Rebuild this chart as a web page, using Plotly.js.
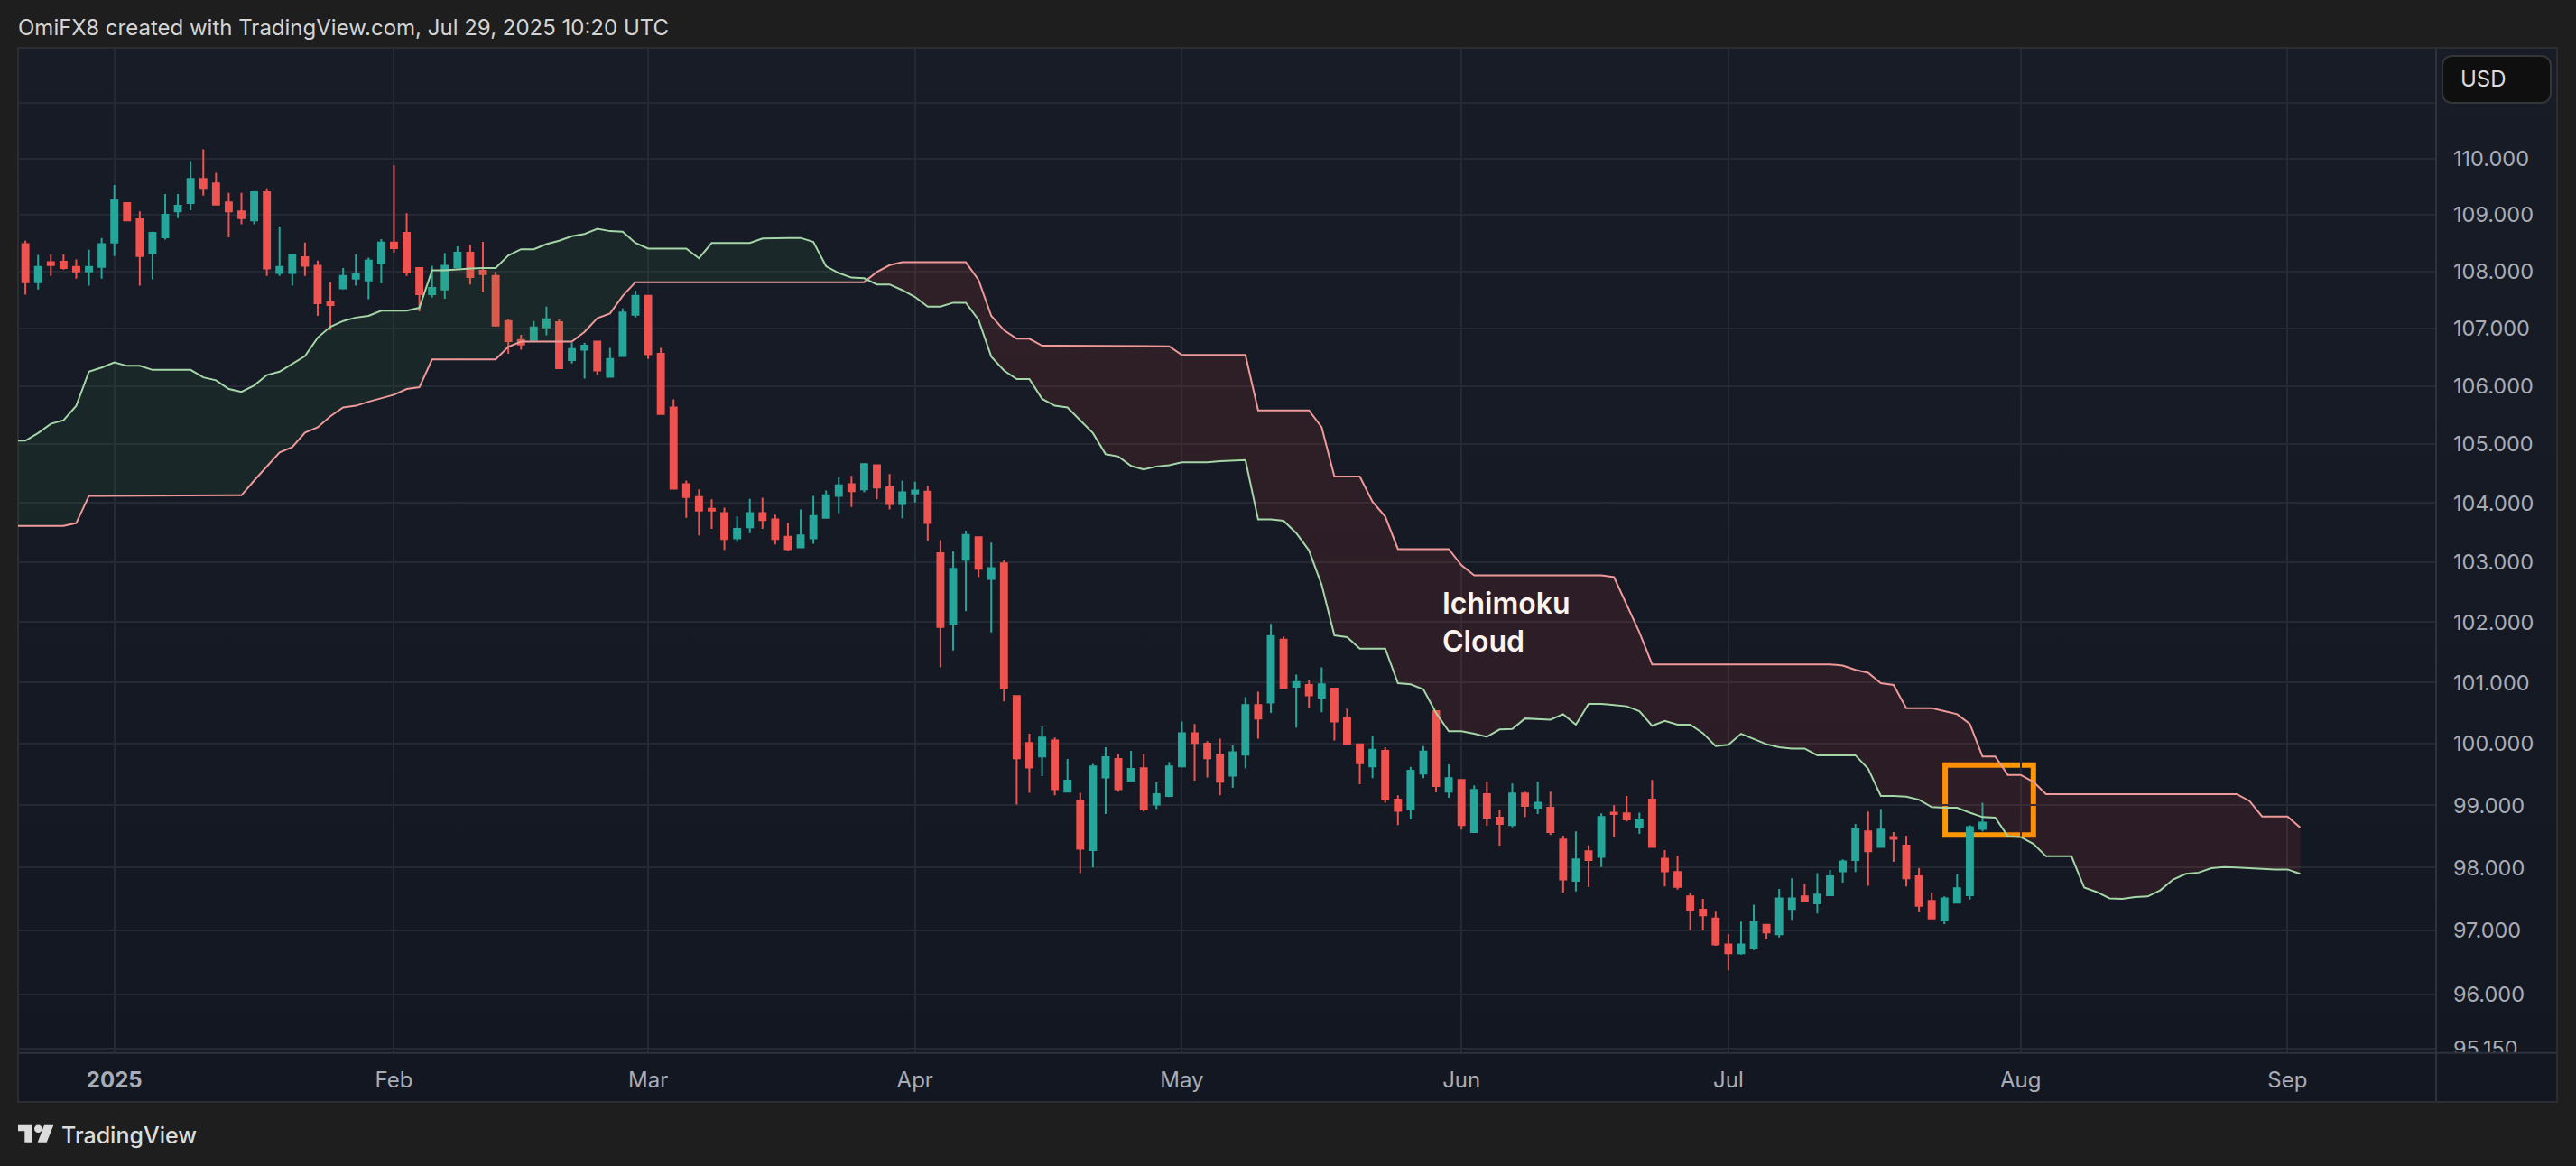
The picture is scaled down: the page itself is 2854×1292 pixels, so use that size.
<!DOCTYPE html>
<html>
<head>
<meta charset="utf-8">
<script src="https://cdn.plot.ly/plotly-3.0.1.min.js"></script>
<style>
html,body{margin:0;padding:0;background:#1e1e1e;width:2854px;height:1292px;overflow:hidden}
#panel{position:absolute;left:19px;top:52px;width:2815px;height:1170px;box-sizing:border-box;border:2px solid #2b2d32;background:linear-gradient(to bottom,#181c27,#131722)}
#plot{position:absolute;left:0;top:0;width:2854px;height:1292px}
</style>
</head>
<body>
<div id="panel"></div>
<div id="plot"></div>
<script>
// Dollar index daily bars, index 0 = late Dec 2024, spaced by trading day
const opens=[108.48,107.81,108.16,108.17,108.08,108.00,108.08,108.51,109.21,108.92,
108.32,108.60,109.06,109.21,109.64,109.56,109.22,109.06,108.90,109.40,
107.97,107.97,108.25,108.10,107.46,107.70,107.87,107.84,108.14,108.51,
108.68,108.06,107.60,107.68,108.07,108.33,108.01,107.92,107.13,106.80,
106.80,107.02,107.11,106.45,106.63,106.77,106.16,106.52,107.24,107.57,
106.56,105.63,104.32,104.10,103.90,103.83,103.40,103.59,103.83,103.72,
103.43,103.25,103.40,103.75,104.12,104.32,104.23,104.64,104.27,103.98,
104.16,104.19,103.15,101.97,103.04,103.42,102.72,102.98,100.78,100.01,
99.79,100.05,99.22,99.07,98.28,99.45,99.75,99.40,99.60,99.01,
99.15,99.63,100.17,100.00,99.82,99.48,99.82,100.63,100.67,101.71,
100.93,100.96,100.75,100.90,100.42,99.99,99.63,99.88,99.09,98.93,
99.51,100.53,99.22,99.41,98.57,99.18,98.80,98.68,99.19,98.96,
98.96,98.45,97.79,98.26,98.17,98.88,98.87,98.65,99.09,98.14,
97.93,97.54,97.33,97.19,96.78,96.64,96.73,97.09,96.94,97.34,
97.54,97.43,97.56,97.94,98.12,98.58,98.33,98.49,98.35,97.86,
97.47,97.16,97.44,97.56,98.62];
const highs=[108.54,108.29,108.30,108.30,108.21,108.38,108.59,109.53,109.22,109.06,
108.70,109.37,109.37,109.96,110.17,109.75,109.39,109.39,109.42,109.47,
108.79,108.29,108.51,108.19,107.81,108.06,108.30,108.24,108.57,109.88,
109.03,108.06,108.10,108.32,108.44,108.46,108.52,107.99,107.17,106.89,
107.13,107.38,107.16,106.75,106.75,106.78,106.66,107.35,107.66,107.57,
106.66,105.77,104.38,104.23,104.06,103.92,103.77,104.07,104.09,103.80,
103.66,103.89,104.12,104.21,104.44,104.46,104.68,104.64,104.49,104.38,
104.36,104.29,103.37,103.18,103.53,103.43,103.33,103.03,100.78,100.16,
100.28,100.10,99.75,99.20,99.67,99.94,99.83,99.88,99.83,99.37,
99.70,100.36,100.32,100.04,100.08,99.97,100.76,100.85,101.97,101.76,
101.13,101.04,101.25,100.90,100.57,99.99,100.12,99.94,99.16,99.62,
99.96,100.53,99.66,99.41,99.32,99.38,98.93,99.35,99.22,99.38,
99.22,98.51,98.58,98.36,98.87,99.00,99.15,98.88,99.41,98.28,
98.19,97.60,97.50,97.31,96.94,97.14,97.41,97.10,97.66,97.83,
97.74,97.91,97.96,98.13,98.70,98.90,98.94,98.57,98.51,97.99,
97.60,97.54,97.90,98.68,99.04];
const lows=[107.59,107.68,107.92,108.03,107.87,107.75,107.87,108.27,108.89,107.75,
107.86,108.56,108.94,109.08,109.34,109.18,108.60,108.83,108.83,107.92,
107.92,107.75,107.92,107.22,106.97,107.68,107.75,107.51,107.79,108.33,
107.92,107.30,107.54,107.52,108.07,107.77,107.63,107.03,106.56,106.63,
106.80,106.88,106.31,106.39,106.13,106.19,106.16,106.52,107.19,106.47,
105.52,104.24,103.75,103.45,103.56,103.21,103.34,103.49,103.56,103.30,
103.19,103.25,103.31,103.75,103.83,103.93,104.18,104.06,103.89,103.74,
104.01,103.36,101.25,101.53,102.18,102.75,101.83,100.69,99.01,99.20,
99.47,99.16,99.22,97.91,98.00,98.86,99.22,99.40,98.90,98.94,
99.13,99.61,99.40,99.45,99.16,99.28,99.60,100.08,100.50,100.90,
100.26,100.59,100.51,100.05,100.00,99.34,99.44,99.04,98.68,98.77,
99.44,99.21,99.12,98.61,98.57,98.67,98.35,98.65,98.81,98.86,
98.52,97.60,97.62,97.69,98.01,98.48,98.74,98.54,98.33,97.70,
97.65,97.00,97.00,96.76,96.37,96.62,96.69,96.86,96.89,97.17,
97.46,97.27,97.56,97.76,97.93,97.71,98.33,98.09,97.70,97.30,
97.19,97.10,97.43,97.49,98.58];
const closes=[107.81,108.08,108.11,108.06,108.00,108.08,108.48,109.26,108.90,108.27,
108.68,109.00,109.16,109.64,109.48,109.18,109.06,108.94,109.40,108.05,
108.08,108.29,108.10,107.44,107.41,107.92,107.95,108.19,108.51,108.41,
107.98,107.60,107.71,108.10,108.33,107.90,107.95,107.05,106.78,106.72,
107.02,107.16,106.31,106.64,106.70,106.27,106.47,107.28,107.57,106.55,
105.52,104.24,104.10,103.87,103.87,103.39,103.56,103.83,103.71,103.39,
103.22,103.45,103.78,104.13,104.30,104.20,104.66,104.26,103.98,104.18,
104.21,103.66,101.92,102.89,103.46,102.89,102.90,100.90,99.76,99.61,
100.10,99.26,99.40,98.30,99.63,99.78,99.26,99.59,98.93,99.18,
99.63,100.17,100.01,99.76,99.38,99.86,100.63,100.41,101.77,100.91,
101.01,100.79,100.97,100.36,100.00,99.68,99.90,99.09,98.91,99.56,
99.87,99.31,99.44,98.68,99.25,98.80,98.70,99.19,98.99,99.04,
98.57,97.81,98.13,98.12,98.81,98.86,98.77,98.77,98.33,97.94,
97.69,97.33,97.24,96.78,96.64,96.78,97.13,96.97,97.51,97.51,
97.46,97.57,97.86,98.10,98.62,98.26,98.61,98.46,97.83,97.39,
97.19,97.51,97.67,98.65,98.72];
// Ichimoku leading spans, first value sits one bar before bar 0
const senkouA=[105.06,
105.06,105.19,105.35,105.41,105.66,106.25,106.32,106.41,106.35,106.35,
106.28,106.28,106.28,106.28,106.15,106.10,105.95,105.90,106.01,106.19,
106.25,106.39,106.52,106.84,107.03,107.13,107.19,107.22,107.31,107.31,
107.31,107.36,108.02,108.02,108.04,108.05,108.06,108.06,108.28,108.39,
108.39,108.48,108.54,108.62,108.66,108.75,108.71,108.70,108.50,108.40,
108.40,108.40,108.40,108.23,108.50,108.50,108.50,108.50,108.58,108.59,
108.59,108.59,108.52,108.09,107.97,107.89,107.88,107.77,107.77,107.67,
107.55,107.38,107.38,107.45,107.45,107.15,106.51,106.27,106.12,106.12,
105.78,105.66,105.63,105.41,105.19,104.83,104.79,104.63,104.57,104.62,
104.64,104.69,104.69,104.69,104.71,104.72,104.73,103.72,103.72,103.70,
103.49,103.20,102.62,101.78,101.75,101.56,101.56,101.56,100.99,100.97,
100.89,100.50,100.20,100.20,100.16,100.11,100.23,100.24,100.41,100.40,
100.39,100.48,100.31,100.65,100.65,100.63,100.61,100.53,100.29,100.37,
100.31,100.31,100.17,99.96,99.98,100.16,100.08,99.99,99.94,99.92,
99.92,99.81,99.81,99.81,99.81,99.59,99.15,99.15,99.14,99.09,
98.97,98.96,98.96,98.88,98.81,98.80,98.50,98.49,98.38,98.18,
98.18,98.18,97.68,97.61,97.51,97.50,97.53,97.54,97.64,97.81,
97.90,97.92,97.99,98.01,98.00,97.99,97.97,97.97,97.97,97.90];
const senkouB=[103.61,
103.61,103.61,103.61,103.61,103.66,104.12,104.12,104.12,104.12,104.12,
104.12,104.12,104.12,104.12,104.12,104.12,104.12,104.13,104.38,104.62,
104.86,104.95,105.20,105.29,105.48,105.63,105.66,105.73,105.79,105.85,
105.95,105.98,106.46,106.46,106.46,106.46,106.46,106.46,106.68,106.77,
106.77,106.77,106.77,106.77,106.94,107.18,107.26,107.57,107.81,107.81,
107.81,107.81,107.81,107.81,107.81,107.81,107.81,107.81,107.81,107.81,
107.81,107.81,107.81,107.81,107.81,107.81,107.81,107.99,108.11,108.16,
108.16,108.16,108.16,108.16,108.16,107.85,107.22,106.97,106.82,106.82,
106.70,106.70,106.70,106.70,106.70,106.70,106.69,106.69,106.69,106.69,
106.69,106.54,106.54,106.54,106.54,106.54,106.54,105.58,105.58,105.58,
105.58,105.58,105.29,104.45,104.45,104.45,104.02,103.77,103.22,103.22,
103.22,103.22,103.22,102.95,102.78,102.78,102.78,102.78,102.78,102.78,
102.78,102.78,102.78,102.78,102.78,102.75,102.30,101.83,101.30,101.30,
101.30,101.30,101.30,101.30,101.30,101.30,101.30,101.30,101.30,101.30,
101.30,101.30,101.30,101.28,101.21,101.16,100.99,100.96,100.58,100.58,
100.58,100.53,100.48,100.32,99.79,99.79,99.49,99.49,99.38,99.18,
99.18,99.18,99.18,99.18,99.18,99.18,99.18,99.18,99.18,99.18,
99.18,99.18,99.18,99.18,99.18,99.07,98.82,98.82,98.82,98.64];
const xTickIndex=[7,29,49,70,91,113,134,157,178];
const xTickText=['<b>2025</b>','Feb','Mar','Apr','May','Jun','Jul','Aug','Sep'];
const yTickValues=[95.15,96,97,98,99,100,101,102,103,104,105,106,107,108,109,110,111];
const boxX=[151.06,158.0];
const boxY=[98.52,99.65];

const barX=opens.map((_,i)=>i);
const cloudX=senkouA.map((_,k)=>k-1);
const crossAt=senkouA.findIndex((a,k)=>a<senkouB[k]);
const d0=senkouA[crossAt-1]-senkouB[crossAt-1], d1=senkouA[crossAt]-senkouB[crossAt];
const t=d0/(d0-d1);
const cx=cloudX[crossAt-1]+t, cy=senkouB[crossAt-1]+t*(senkouB[crossAt]-senkouB[crossAt-1]);
function poly(from,to,pre,post){
  const xa=cloudX.slice(from,to), a=senkouA.slice(from,to), b=senkouB.slice(from,to);
  return {
    x:[...pre.map(p=>p[0]),...xa,...post.map(p=>p[0]),...xa.slice().reverse()],
    y:[...pre.map(p=>p[1]),...a,...post.map(p=>p[1]),...b.slice().reverse()]
  };
}
const bull=poly(0,crossAt,[],[[cx,cy]]);
const bear=poly(crossAt,senkouA.length,[[cx,cy]],[]);

const traces=[
 {type:'scatter',mode:'lines',x:bull.x,y:bull.y,fill:'toself',fillcolor:'rgba(67,160,71,0.1)',line:{width:0},hoverinfo:'skip',showlegend:false},
 {type:'scatter',mode:'lines',x:bear.x,y:bear.y,fill:'toself',fillcolor:'rgba(244,67,54,0.11)',line:{width:0},hoverinfo:'skip',showlegend:false},
 {type:'scatter',mode:'lines',x:cloudX,y:senkouB,line:{color:'#EF9A9A',width:2},name:'Leading Span B',showlegend:false},
 {type:'scatter',mode:'lines',x:cloudX,y:senkouA,line:{color:'#A5D6A7',width:2},name:'Leading Span A',showlegend:false},
 {type:'candlestick',x:barX,open:opens,high:highs,low:lows,close:closes,whiskerwidth:0,width:0.57,
  increasing:{line:{color:'#26A69A',width:2},fillcolor:'#26A69A'},
  decreasing:{line:{color:'#EF5350',width:2},fillcolor:'#EF5350'},showlegend:false}
];

const X=p=>(p-20)/2679, Y=p=>(1167-p)/1113;
const P=(x,y)=>X(x)+','+Y(y);
function rrect(x0,y0,x1,y1,r){
  return 'M'+P(x0+r,y0)+' L'+P(x1-r,y0)+' Q'+P(x1,y0)+' '+P(x1,y0+r)+' L'+P(x1,y1-r)+' Q'+P(x1,y1)+' '+P(x1-r,y1)+
    ' L'+P(x0+r,y1)+' Q'+P(x0,y1)+' '+P(x0,y1-r)+' L'+P(x0,y0+r)+' Q'+P(x0,y0)+' '+P(x0+r,y0)+' Z';
}
const paper={xref:'paper',yref:'paper'};
const shapes=[
 {type:'rect',xref:'x',yref:'y',x0:boxX[0],x1:boxX[1],y0:boxY[0],y1:boxY[1],line:{color:'#FF9800',width:6},fillcolor:'rgba(0,0,0,0)',layer:'below'},
 {...paper,type:'rect',x0:X(2701),x1:X(2832),y0:Y(123),y1:Y(113),fillcolor:'#181c27',line:{width:0},layer:'above'},
 {...paper,type:'rect',x0:X(2701),x1:X(2832),y0:Y(1178),y1:Y(1167),fillcolor:'#131722',line:{width:0},layer:'above'},
 {...paper,type:'line',x0:X(20),x1:X(2833),y0:Y(1166.7),y1:Y(1166.7),line:{color:'#2e323d',width:2},layer:'above'},
 {...paper,type:'line',x0:X(2699),x1:X(2699),y0:Y(53),y1:Y(1221),line:{color:'#2e323d',width:2},layer:'above'},
 {...paper,type:'path',path:rrect(2706,62,2826,114,12),fillcolor:'#0f0f0f',line:{color:'#35363a',width:2},layer:'above'},
 {...paper,type:'path',path:'M'+P(20,1246.7)+' L'+P(35,1246.7)+' L'+P(35,1265.7)+' L'+P(27.3,1265.7)+' L'+P(27.3,1253.3)+' L'+P(20,1253.3)+' Z',fillcolor:'#dcdcdc',line:{width:0},layer:'above'},
 {...paper,type:'circle',x0:X(38),x1:X(46.6),y0:Y(1255),y1:Y(1246.4),fillcolor:'#dcdcdc',line:{width:0},layer:'above'},
 {...paper,type:'path',path:'M'+P(49,1246.7)+' L'+P(59.3,1246.7)+' L'+P(51.7,1265.7)+' L'+P(41.7,1265.7)+' Z',fillcolor:'#dcdcdc',line:{width:0},layer:'above'}
];
const note=(text,px,py,font)=>({text,x:X(px),y:Y(py),xref:'paper',yref:'paper',xanchor:'left',yanchor:'middle',align:'left',showarrow:false,font});
const annotations=[
 note('USD',2724,88,{family:'Inter',size:24,color:'#dcdcdc'}),
 note('Ichimoku<br>Cloud',1596,689,{family:'Inter',size:32,color:'#fdf3ee',weight:600}),
 note('TradingView',66,1258,{family:'Inter',size:25,color:'#dcdcdc',weight:500})
];

const layout={
 width:2854,height:1292,
 margin:{l:20,r:155,t:54,b:125,pad:0},
 paper_bgcolor:'rgba(0,0,0,0)',plot_bgcolor:'rgba(0,0,0,0)',
 font:{family:'Inter',size:24,color:'#a9acb5'},
 showlegend:false,hovermode:false,dragmode:false,
 title:{text:'OmiFX8 created with TradingView.com, Jul 29, 2025 10:20 UTC',x:20/2854,xref:'container',xanchor:'left',y:1-31/1292,yref:'container',yanchor:'middle',font:{family:'Inter',size:24,color:'#d4d4d4'}},
 xaxis:{type:'linear',range:[-0.578,189.69],tickmode:'array',tickvals:xTickIndex,ticktext:xTickText,showgrid:true,gridcolor:'#252933',gridwidth:2,zeroline:false,showline:false,ticks:'',ticklabelstandoff:13,tickfont:{family:'Inter',size:24,color:'#a9acb5'},rangeslider:{visible:false},fixedrange:true},
 yaxis:{type:'log',side:'right',range:[Math.log10(95.08),Math.log10(111.99)],tickmode:'array',tickvals:yTickValues,ticktext:yTickValues.map(v=>v.toFixed(3)),showgrid:true,gridcolor:'#252933',gridwidth:2,zeroline:false,showline:false,ticks:'',ticklabelstandoff:18,tickfont:{family:'Inter',size:23.5,color:'#a9acb5'},fixedrange:true},
 shapes,annotations
};
Plotly.newPlot('plot',traces,layout,{displayModeBar:false,staticPlot:true,responsive:false});
</script>
</body>
</html>
